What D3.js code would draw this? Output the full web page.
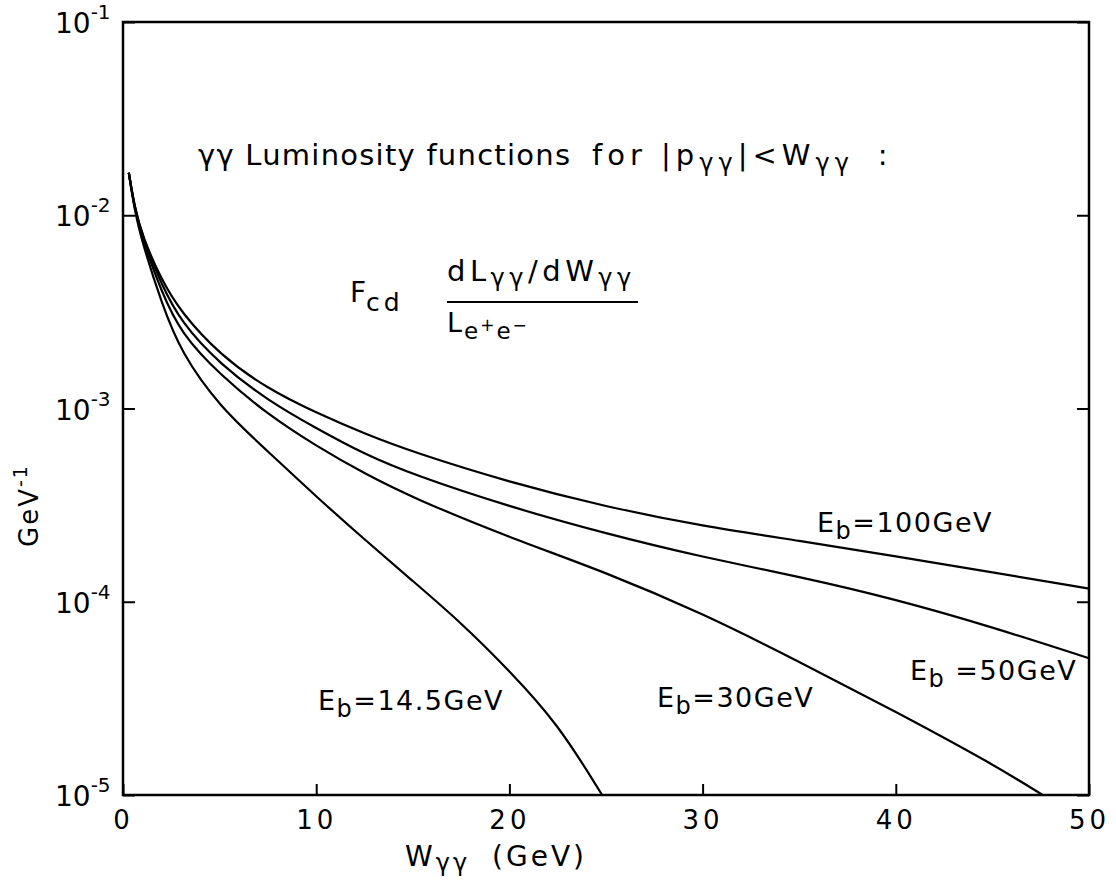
<!DOCTYPE html>
<html>
<head>
<meta charset="utf-8">
<script src="https://cdn.jsdelivr.net/npm/d3@7/dist/d3.min.js"></script>
<style>
  body { margin: 0; background: #fff; }
  svg text { font-family: "DejaVu Sans", sans-serif; fill: #000; }
</style>
</head>
<body>
<svg id="chart" width="1116" height="880"></svg>
<script>
"use strict"

// W_gg values (GeV) and luminosity function values (GeV^-1)
const w100 = [0.3, 0.6, 1, 2, 3, 5, 7.5, 10, 12.5, 15, 20, 25, 30, 35, 40, 45, 50];
const eb100 = [1.66e-2, 1.1e-2, 7.8e-3, 4.6e-3, 3.15e-3, 1.90e-3, 1.26e-3, 9.5e-4, 7.4e-4, 5.95e-4, 4.15e-4, 3.1e-4, 2.46e-4, 2.07e-4, 1.72e-4, 1.42e-4, 1.17e-4];

const w50 = [0.3, 0.6, 1, 2, 3, 5, 7.5, 10, 12.5, 15, 20, 25, 30, 35, 40, 45, 50];
const eb50 = [1.66e-2, 1.1e-2, 7.7e-3, 4.35e-3, 2.8e-3, 1.70e-3, 1.10e-3, 7.9e-4, 5.8e-4, 4.55e-4, 3.1e-4, 2.25e-4, 1.7e-4, 1.35e-4, 1.03e-4, 7.4e-5, 5.1e-5];

const w30 = [0.3, 0.6, 1, 2, 3, 5, 7.5, 10, 12.5, 15, 20, 25, 30, 35, 40, 45, 47.6];
const eb30 = [1.66e-2, 1.08e-2, 7.5e-3, 4.0e-3, 2.45e-3, 1.50e-3, 9.3e-4, 6.4e-4, 4.6e-4, 3.45e-4, 2.15e-4, 1.42e-4, 8.7e-5, 4.9e-5, 2.7e-5, 1.45e-5, 1.0e-5];

const w145 = [0.3, 0.6, 1, 2, 3, 5, 7.5, 10, 12.5, 15, 17.5, 20, 22.5, 24.8];
const eb145 = [1.66e-2, 1.06e-2, 7.2e-3, 3.5e-3, 1.95e-3, 1.02e-3, 6.0e-4, 3.5e-4, 2.1e-4, 1.28e-4, 7.8e-5, 4.4e-5, 2.35e-5, 1.0e-5];

const xTicks = [0, 10, 20, 30, 40, 50];
const yTicks = [1e-1, 1e-2, 1e-3, 1e-4, 1e-5];
const yTickExp = ["-1", "-2", "-3", "-4", "-5"];

const series = [
    { w: w100, f: eb100, label: "100GeV", lx: 817, ly: 532 },
    { w: w50, f: eb50, label: "50GeV", lx: 910, ly: 680, gap: 10 },
    { w: w30, f: eb30, label: "30GeV", lx: 657, ly: 707 },
    { w: w145, f: eb145, label: "14.5GeV", lx: 318, ly: 710 }
];

const svg = d3.select("#chart");

const x = d3.scaleLinear().domain([0, 50]).range([123, 1089]);
const y = d3.scaleLog().domain([1e-5, 1e-1]).range([795, 22]);

// frame
svg.append("rect")
    .attr("x", x(0)).attr("y", y(1e-1))
    .attr("width", x(50) - x(0)).attr("height", y(1e-5) - y(1e-1))
    .attr("fill", "none").attr("stroke", "#000").attr("stroke-width", 2.5);

// x axis: inward ticks + labels
const xAxis = svg.append("g")
    .attr("transform", `translate(0,${y(1e-5)})`)
    .call(d3.axisBottom(x).tickValues(xTicks).tickSize(-11).tickPadding(16).tickFormat(d3.format("d")));
xAxis.select(".domain").remove();
xAxis.selectAll("line").attr("stroke-width", 2);
xAxis.selectAll("text").attr("font-size", 26).style("letter-spacing", "4px");

// y axes: inward ticks both sides
const yLeft = svg.append("g")
    .attr("transform", `translate(${x(0)},0)`)
    .call(d3.axisLeft(y).tickValues(yTicks).tickSize(-12).tickFormat(""));
const yRight = svg.append("g")
    .attr("transform", `translate(${x(50)},0)`)
    .call(d3.axisRight(y).tickValues(yTicks).tickSize(-12).tickFormat(""));
[yLeft, yRight].forEach(g => {
    g.select(".domain").remove();
    g.selectAll("line").attr("stroke-width", 2);
});

// y tick labels: 10^-n
yTicks.forEach((v, i) => {
    const t = svg.append("text")
        .attr("x", 55).attr("y", y(v) + 11)
        .attr("font-size", 28);
    t.append("tspan").text("10");
    t.append("tspan").attr("dy", -14).attr("font-size", 20).text(yTickExp[i]);
});

// curves
const line = d3.line()
    .x(d => x(d[0]))
    .y(d => y(d[1]))
    .curve(d3.curveBasis);

series.forEach(s => {
    svg.append("path")
        .datum(s.w.map((w, i) => [w, s.f[i]]))
        .attr("d", line)
        .attr("fill", "none")
        .attr("stroke", "#000")
        .attr("stroke-width", 2.2);

    const t = svg.append("text")
        .attr("x", s.lx).attr("y", s.ly)
        .attr("font-size", 27)
        .style("letter-spacing", "1.5px");
    t.append("tspan").text("E");
    t.append("tspan").attr("dy", 7).attr("font-size", 24).text("b");
    t.append("tspan").attr("dy", -7).attr("dx", s.gap || 0).text("=" + s.label);
});

// title, in two pieces
svg.append("text")
    .attr("x", 198).attr("y", 165)
    .attr("font-size", 29)
    .attr("textLength", 372).attr("lengthAdjust", "spacing")
    .text("γγ Luminosity functions");

const title2 = svg.append("text")
    .attr("x", 592).attr("y", 165)
    .attr("font-size", 29)
    .style("letter-spacing", "5px");
title2.append("tspan").text("for |p");
title2.append("tspan").attr("dy", 6).attr("font-size", 24).text("γγ");
title2.append("tspan").attr("dy", -6).text("|<W");
title2.append("tspan").attr("dy", 6).attr("font-size", 24).text("γγ");
title2.append("tspan").attr("dy", -6).attr("dx", 24).text(":");

// formula F_cd (dL/dW)/L_e+e-
const fcd = svg.append("text").attr("x", 350).attr("y", 302).attr("font-size", 28);
fcd.append("tspan").text("F");
fcd.append("tspan").attr("dy", 9).attr("font-size", 25).style("letter-spacing", "4px").text("cd");

const num = svg.append("text").attr("x", 447).attr("y", 281).attr("font-size", 29)
    .style("letter-spacing", "4.5px");
num.append("tspan").text("dL");
num.append("tspan").attr("dy", 5).attr("font-size", 24).text("γγ");
num.append("tspan").attr("dy", -5).text("/dW");
num.append("tspan").attr("dy", 5).attr("font-size", 24).text("γγ");

svg.append("line")
    .attr("x1", 447).attr("x2", 638)
    .attr("y1", 302).attr("y2", 302)
    .attr("stroke", "#000").attr("stroke-width", 2);

const den = svg.append("text").attr("x", 447).attr("y", 332).attr("font-size", 27)
    .style("letter-spacing", "2px");
den.append("tspan").text("L");
den.append("tspan").attr("dy", 7).attr("font-size", 23).text("e");
den.append("tspan").attr("dy", -8).attr("font-size", 17).text("+");
den.append("tspan").attr("dy", 8).attr("font-size", 23).text("e");
den.append("tspan").attr("dy", -8).attr("font-size", 17).text("−");

// x axis title
const xt = svg.append("text").attr("x", 405).attr("y", 866).attr("font-size", 28)
    .style("letter-spacing", "3px");
xt.append("tspan").text("W");
xt.append("tspan").attr("dy", 5).attr("font-size", 24).text("γγ");
xt.append("tspan").attr("dy", -5).attr("dx", 22).text("(GeV)");

// y axis title
const yt = svg.append("text")
    .attr("transform", "translate(38,547) rotate(-90)")
    .attr("font-size", 26)
    .style("letter-spacing", "2px");
yt.append("tspan").text("GeV");
yt.append("tspan").attr("dy", -11).attr("font-size", 19).text("-1");
</script>
</body>
</html>
